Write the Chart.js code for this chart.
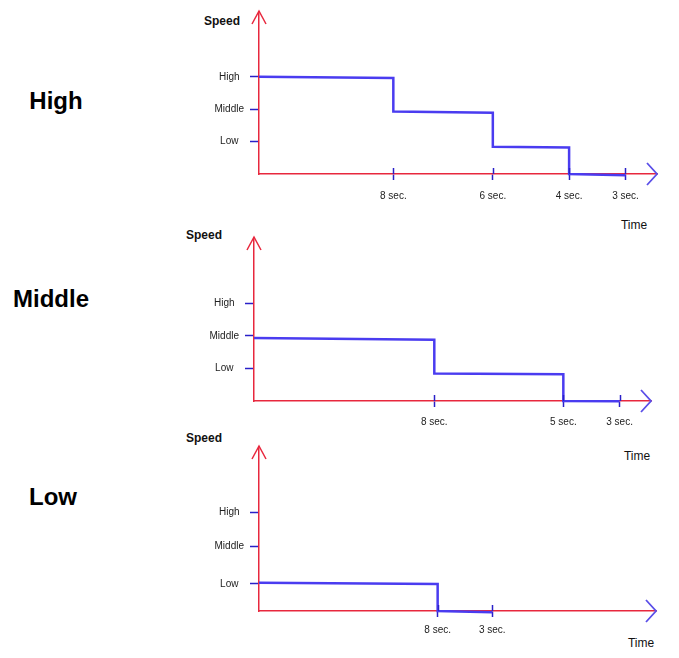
<!DOCTYPE html>
<html><head><meta charset="utf-8">
<script src="https://cdn.jsdelivr.net/npm/chart.js@4"></script>
<style>
html,body{margin:0;padding:0;background:#fff;width:679px;height:658px;overflow:hidden;font-family:"Liberation Sans",Arial,sans-serif}
.cw{position:absolute;left:0;width:679px}
.t{position:absolute;transform:translate(-50%,-50%);line-height:1;white-space:nowrap;color:#111}
.big{font-weight:bold;font-size:24px;color:#000}
.sp{font-weight:bold;font-size:12px}
.tm{font-size:12px}
</style></head><body>

<div class="t big" style="left:56px;top:101px">High</div>
<div class="t big" style="left:51px;top:299px">Middle</div>
<div class="t big" style="left:53px;top:497px">Low</div>

<div class="t sp" style="left:222px;top:21px">Speed</div>
<div class="t sp" style="left:204px;top:235px">Speed</div>
<div class="t sp" style="left:204px;top:438px">Speed</div>

<div class="t tm" style="left:634px;top:225px">Time</div>
<div class="t tm" style="left:637px;top:456px">Time</div>
<div class="t tm" style="left:641px;top:643px">Time</div>

<div class="cw" style="top:0px;height:235px"><canvas id="c1"></canvas></div>
<div class="cw" style="top:226px;height:240px"><canvas id="c2"></canvas></div>
<div class="cw" style="top:428px;height:230px"><canvas id="c3"></canvas></div>

<script>
// ---- data ----
const speedLabels = ['Low', 'Middle', 'High'];

// Chart 1: "High"
const highTickValues = [1, 2, 3];
const highTimeLabels = ['8 sec.', '6 sec.', '4 sec.', '3 sec.'];
const highTimeMarks = [8.1, 14.1, 18.7, 22.1];
const highX = [0, 8.1, 8.1, 14.1, 14.1, 18.7, 18.7, 22.1];
const highY = [3.0, 2.96, 1.93, 1.89, 0.84, 0.82, 0, -0.04];

// Chart 2: "Middle"
const midTickValues = [1, 2, 3];
const midTimeLabels = ['8 sec.', '5 sec.', '3 sec.'];
const midTimeMarks = [10.9, 18.7, 22.1];
const midX = [0, 10.9, 10.9, 18.7, 18.7, 22.1];
const midY = [1.93, 1.88, 0.84, 0.82, 0, -0.01];

// Chart 3: "Low"
const lowTickValues = [0.83, 1.98, 3];
const lowTimeLabels = ['8 sec.', '3 sec.'];
const lowTimeMarks = [10.8, 14.1];
const lowX = [0, 10.8, 10.8, 14.1];
const lowY = [0.86, 0.82, 0, -0.04];

const xMax = 24;
const yMax = 5;

// ---- styles ----
const RED = '#e8283e';
const LINE = '#4a3cf0';
const TICK = '#2a20c8';
const ARROWX = '#5a4ee8';
const labelFont = {family: '"Liberation Sans", Arial, sans-serif', size: 10};

const arrowPlugin = {
  id: 'arrows',
  afterDraw(chart) {
    const {ctx, chartArea: a, scales} = chart;
    ctx.save();
    // upper half of x tick marks (crossing the axis)
    ctx.strokeStyle = TICK; ctx.lineWidth = 1.5;
    scales.x.ticks.forEach(t => {
      const px = Math.round(scales.x.getPixelForValue(t.value)) + 0.5;
      ctx.beginPath(); ctx.moveTo(px, a.bottom - 6); ctx.lineTo(px, a.bottom); ctx.stroke();
    });
    // y arrow
    ctx.strokeStyle = RED; ctx.lineWidth = 1.5;
    ctx.beginPath();
    ctx.moveTo(a.left - 7, a.top + 12); ctx.lineTo(a.left, a.top - 1); ctx.lineTo(a.left + 7, a.top + 12);
    ctx.stroke();
    // x arrow
    ctx.strokeStyle = ARROWX; ctx.lineWidth = 1.8;
    ctx.beginPath();
    ctx.moveTo(a.right - 10, a.bottom - 11); ctx.lineTo(a.right, a.bottom); ctx.lineTo(a.right - 10, a.bottom + 11);
    ctx.stroke();
    ctx.restore();
  }
};

function makeChart(id, xs, ys, tickValues, timeMarks, timeLabels, lay) {
  const pts = xs.map((x, i) => ({x, y: ys[i]}));
  return new Chart(document.getElementById(id), {
    type: 'line',
    data: {datasets: [{data: pts, borderColor: LINE, borderWidth: 2.5, pointRadius: 0, tension: 0, fill: false, clip: false}]},
    options: {
      responsive: true, maintainAspectRatio: false, animation: false,
      layout: {padding: {left: 0, top: lay.top, right: lay.right, bottom: 0}},
      plugins: {legend: {display: false}, tooltip: {enabled: false}},
      scales: {
        x: {
          type: 'linear', min: 0, max: xMax,
          afterFit: s => { s.height = lay.xh; },
          afterBuildTicks: s => { s.ticks = timeMarks.map(v => ({value: v})); },
          border: {color: RED, width: 1.5},
          grid: {drawOnChartArea: false, drawTicks: true, tickLength: 6, tickColor: TICK, tickWidth: 1.5},
          ticks: {autoSkip: false, maxRotation: 0, padding: lay.xpad, color: '#222', font: labelFont,
            callback: (v, i) => timeLabels[i]}
        },
        y: {
          type: 'linear', min: 0, max: yMax,
          afterFit: s => { s.width = lay.left; },
          afterBuildTicks: s => { s.ticks = tickValues.map(v => ({value: v})); },
          border: {color: RED, width: 1.5},
          grid: {drawOnChartArea: false, drawTicks: true, tickLength: 9, tickColor: TICK, tickWidth: 1.5},
          ticks: {autoSkip: false, crossAlign: 'center', padding: 6, color: '#222', font: labelFont,
            callback: (v, i) => speedLabels[i]}
        }
      }
    },
    plugins: [arrowPlugin]
  });
}

makeChart('c1', highX, highY, highTickValues, highTimeMarks, highTimeLabels, {left: 259, top: 12, right: 22, xh: 61, xpad: 10});
makeChart('c2', midX, midY, midTickValues, midTimeMarks, midTimeLabels, {left: 254, top: 11, right: 28, xh: 65, xpad: 9});
makeChart('c3', lowX, lowY, lowTickValues, lowTimeMarks, lowTimeLabels, {left: 259, top: 19, right: 23, xh: 47, xpad: 7});
</script>
</body></html>
